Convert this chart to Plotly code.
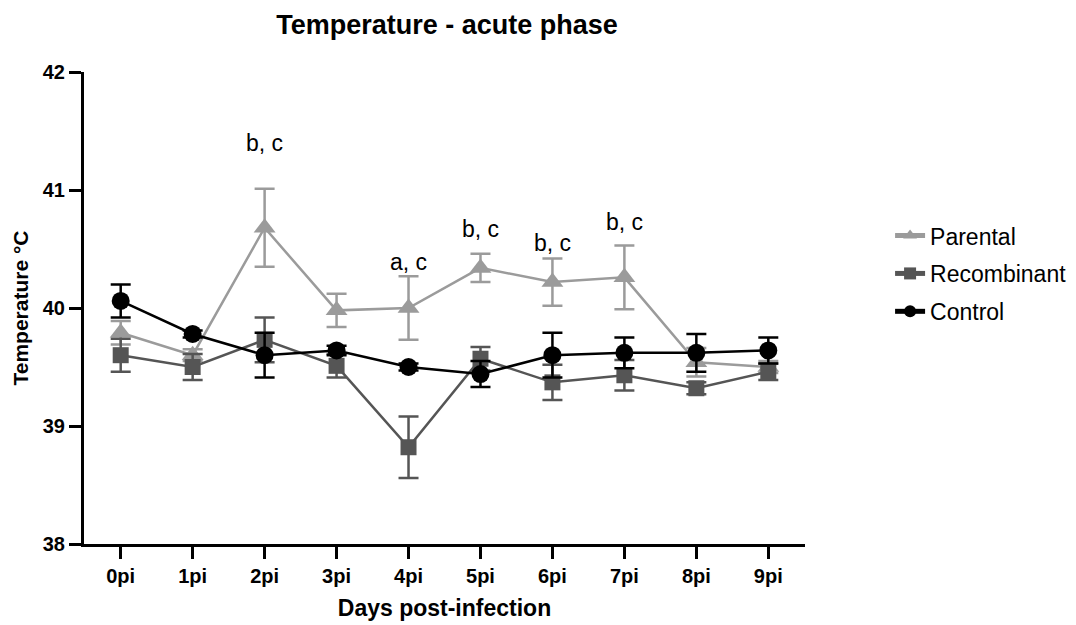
import plotly.graph_objects as go

days = ["0pi", "1pi", "2pi", "3pi", "4pi", "5pi", "6pi", "7pi", "8pi", "9pi"]

parental = [39.79, 39.60, 40.68, 39.98, 40.00, 40.34, 40.22, 40.26, 39.54, 39.50]
parental_err = [0.10, 0.05, 0.33, 0.14, 0.27, 0.12, 0.20, 0.27, 0.12, 0.05]

recombinant = [39.60, 39.50, 39.73, 39.51, 38.82, 39.57, 39.37, 39.43, 39.32, 39.46]
recombinant_err = [0.14, 0.11, 0.19, 0.10, 0.26, 0.10, 0.15, 0.13, 0.05, 0.07]

control = [40.06, 39.78, 39.60, 39.64, 39.50, 39.44, 39.60, 39.62, 39.62, 39.64]
control_err = [0.14, 0.03, 0.19, 0.04, 0.03, 0.11, 0.19, 0.13, 0.16, 0.11]

sig_days = ["2pi", "4pi", "5pi", "6pi", "7pi"]
sig_labels = ["b, c", "a, c", "b, c", "b, c", "b, c"]
sig_y = [41.40, 40.39, 40.67, 40.55, 40.73]

FONT = "Liberation Sans, Arial, Helvetica, sans-serif"

fig = go.Figure()

series = [
    ("Parental", parental, parental_err, "#9b9b9b", "triangle-up", 19),
    ("Recombinant", recombinant, recombinant_err, "#555555", "square", 16),
    ("Control", control, control_err, "#000000", "circle", 18),
]
for name, vals, errs, color, sym, size in series:
    fig.add_trace(go.Scatter(
        x=days, y=vals, name=name, mode="lines+markers", legendgroup=name,
        line=dict(color=color, width=2.5),
        marker=dict(symbol=sym, size=size, color=color),
        error_y=dict(type="data", array=errs, visible=True,
                     color=color, thickness=2.5, width=10),
    ))

for d, t, yv in zip(sig_days, sig_labels, sig_y):
    fig.add_annotation(x=d, y=yv, text=t, showarrow=False,
                       font=dict(size=23, color="black", family=FONT))

fig.update_layout(
    width=1076, height=625,
    margin=dict(l=76, r=276, t=64, b=89),
    paper_bgcolor="white", plot_bgcolor="white",
    font=dict(family=FONT, color="black"),
    title=dict(text="<b>Temperature - acute phase</b>", x=439 / 1076, xanchor="center",
               y=1 - 17 / 625, yanchor="middle", font=dict(size=27, family=FONT)),
    legend=dict(x=1.118, xanchor="left", y=0.699, yanchor="top",
                font=dict(size=23, family=FONT), itemsizing="constant",
                tracegroupgap=5, bgcolor="rgba(0,0,0,0)"),
    showlegend=True,
)

fig.update_xaxes(
    type="category", categoryorder="array", categoryarray=days,
    range=[-0.51, 9.51],
    showline=True, linecolor="black", linewidth=3,
    ticks="outside", ticklen=12, tickwidth=3, tickcolor="black",
    showgrid=False, zeroline=False,
    tickfont=dict(size=20, family=FONT, weight="bold"),
    title=dict(text="<b>Days post-infection</b>", font=dict(size=23, family=FONT), standoff=14),
)
fig.update_yaxes(
    range=[38, 42], tickvals=[38, 39, 40, 41, 42],
    showline=True, linecolor="black", linewidth=3,
    ticks="outside", ticklen=12, tickwidth=3, tickcolor="black",
    showgrid=False, zeroline=False,
    tickfont=dict(size=20, family=FONT, weight="bold"),
    title=dict(text="<b>Temperature °C</b>", font=dict(size=21, family=FONT), standoff=9),
)

fig.write_html("out.html")
